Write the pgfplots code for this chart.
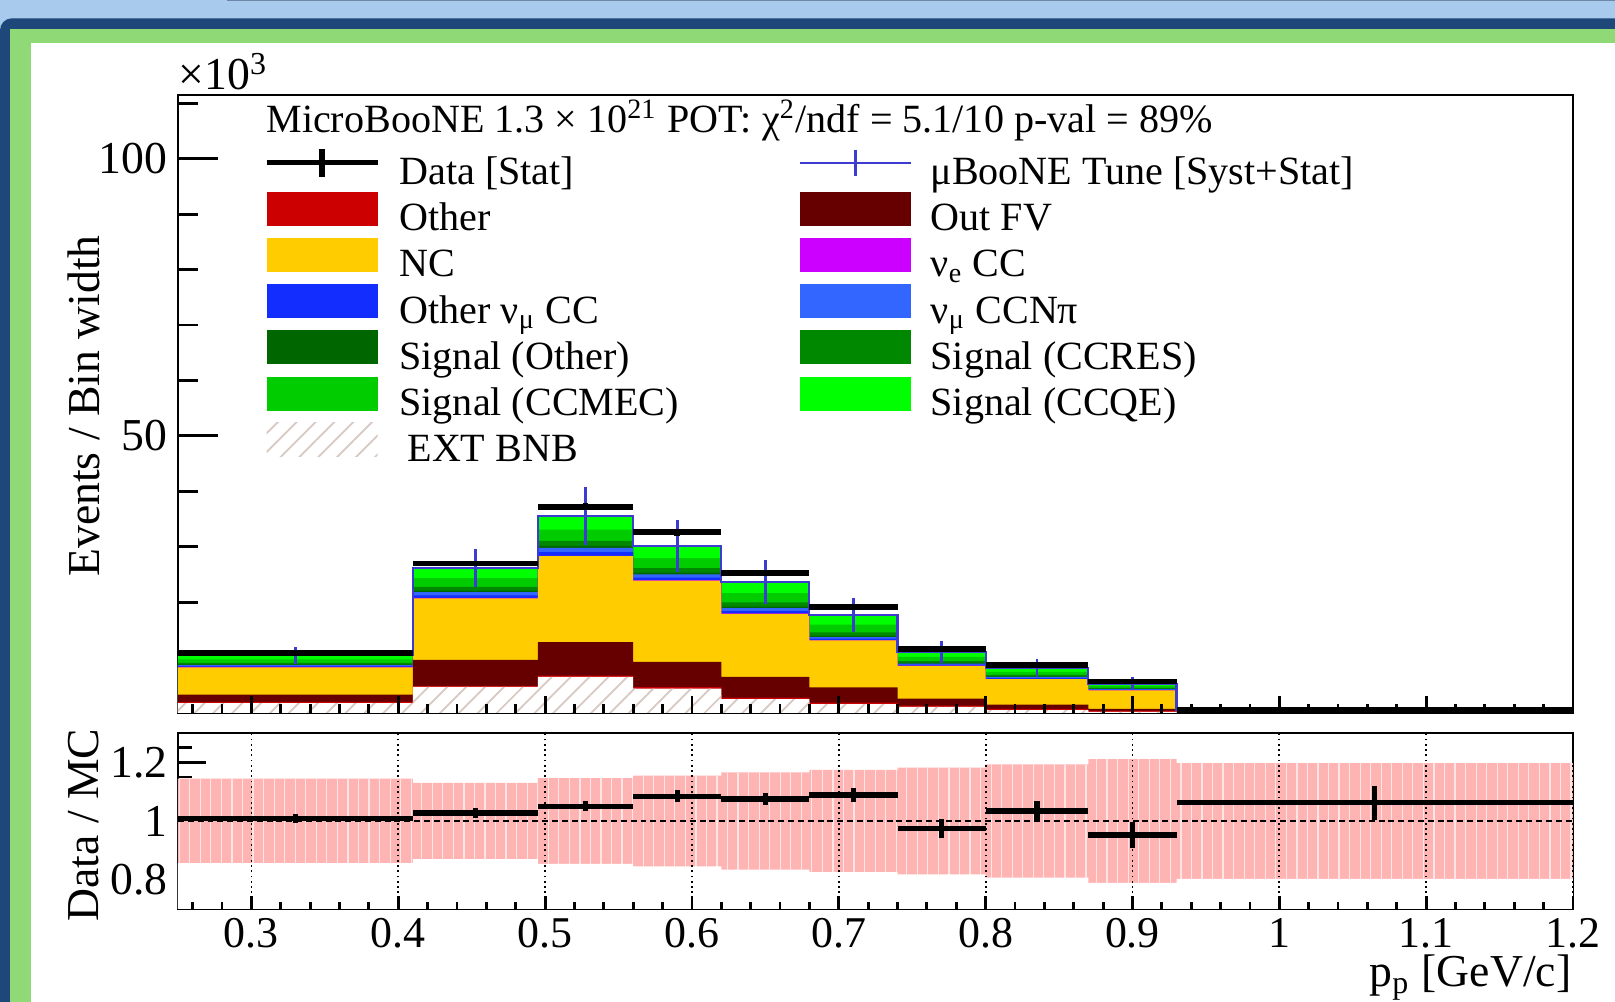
\documentclass[border=0pt]{standalone}
\usepackage{fontspec}
\setmainfont{Liberation Serif}
\usepackage{pgfplots}
\usepackage{pgfplotstable}
\pgfplotsset{compat=1.18}
\usetikzlibrary{patterns,patterns.meta}

\definecolor{cOther}{RGB}{204,0,0}
\definecolor{cOutFV}{RGB}{102,0,0}
\definecolor{cNC}{RGB}{255,204,0}
\definecolor{cNue}{RGB}{204,0,255}
\definecolor{cOmCC}{RGB}{20,45,255}
\definecolor{cNpi}{RGB}{51,102,255}
\definecolor{cSigO}{RGB}{0,102,0}
\definecolor{cRES}{RGB}{0,136,0}
\definecolor{cMEC}{RGB}{0,204,0}
\definecolor{cQE}{RGB}{0,255,0}
\definecolor{cTune}{RGB}{60,60,210}
\definecolor{cBand}{RGB}{255,180,180}
\definecolor{cHatch}{RGB}{215,200,194}
\definecolor{frLight}{RGB}{168,202,236}
\definecolor{frDark}{RGB}{31,72,122}
\definecolor{frGreen}{RGB}{143,217,118}
\definecolor{frLine}{RGB}{110,135,166}

% cumulative layer boundaries (x10^3 events / bin width), bin lower edges
\pgfplotstableread{
x     ext  other outfv nc    nue   omcc  npi   sigo  res   mec   qe
0.25  1.8  2.0   3.3   8.25  8.30  8.45  8.65  8.75  9.03  9.66  10.4
0.41  4.7  4.9   9.6   20.7  20.75 21.22 21.8  22.06 22.77 24.35 26.2
0.495 6.5  6.75  12.8  28.3  28.35 29.0  29.8  30.14 31.05 33.1  35.5
0.56  4.4  4.65  9.2   23.9  23.95 24.42 25.0  25.31 26.12 27.96 30.1
0.62  2.5  2.75  6.5   17.9  17.95 18.38 18.9  19.18 19.94 21.63 23.6
0.68  1.6  1.85  4.6   13.1  13.15 13.4  13.7  13.93 14.56 15.96 17.6
0.74  1.1  1.35  2.6   8.5   8.55  8.71  8.9   9.03  9.36  10.12 11.0
0.80  0.5  0.75  1.5   6.1   6.13  6.3   6.5   6.6   6.86  7.43  8.1
0.87  0.2  0.4   0.75  4.1   4.12  4.2   4.3   4.36  4.52  4.88  5.3
0.93  0.03 0.08  0.15  0.32  0.33  0.35  0.37  0.38  0.41  0.45  0.5
1.2   0.03 0.08  0.15  0.32  0.33  0.35  0.37  0.38  0.41  0.45  0.5
}\stacktab

\pgfplotstableread{
x      y     e
0.33   10.4  1.5
0.4525 26.2  3.4
0.5275 35.5  5.2
0.59   30.1  4.67
0.65   23.6  3.92
0.71   17.6  3.06
0.77   11.0  2.0
0.835  8.1   1.56
0.90   5.3   1.12
1.065  0.5   0.1
}\tunetab

\pgfplotstableread{
x      y     ex     ey
0.33   10.85 0.08   0.17
0.4525 27.0  0.0425 0.46
0.5275 37.2  0.0325 0.63
0.59   32.6  0.03   0.65
0.65   25.3  0.03   0.5
0.71   19.1  0.03   0.46
0.77   11.6  0.03   0.37
0.835  8.7   0.035  0.3
0.90   5.7   0.03   0.25
1.065  0.55  0.135  0.03
}\datatab

\pgfplotstableread{
x      y     ex     ey
0.33   1.008 0.08   0.015
0.4525 1.027 0.0425 0.017
0.5275 1.05  0.0325 0.017
0.59   1.084 0.03   0.02
0.65   1.075 0.03   0.02
0.71   1.089 0.03   0.024
0.77   0.974 0.03   0.032
0.835  1.034 0.035  0.035
0.90   0.952 0.03   0.043
1.065  1.062 0.135  0.058
}\ratiotab

\pgfplotstableread{
x     lo    hi
0.25  0.856 1.144
0.41  0.870 1.130
0.495 0.854 1.146
0.56  0.845 1.155
0.62  0.834 1.166
0.68  0.826 1.174
0.74  0.818 1.182
0.80  0.807 1.193
0.87  0.789 1.211
0.93  0.803 1.197
1.2   0.803 1.197
}\bandtab

\pgfplotsset{
  legbox/.style={legend image code/.code={\path[draw=none,#1] (0mm,-0.36mm) rectangle (11.1mm,3.04mm);}},
  tickfont/.style={font=\fontsize{13}{15}\selectfont},
  xtickfont/.style={font=\fontsize{12.5}{15}\selectfont},
}
\newcommand{\minorx}{0.26,0.28,0.32,0.34,0.36,0.38,0.42,0.44,0.46,0.48,0.52,0.54,0.56,0.58,0.62,0.64,0.66,0.68,0.72,0.74,0.76,0.78,0.82,0.84,0.86,0.88,0.92,0.94,0.96,0.98,1.02,1.04,1.06,1.08,1.12,1.14,1.16,1.18}

\begin{document}
\begin{tikzpicture}
% screenshot frame
\fill[frLight] (0,0) rectangle (161.5mm,100.2mm);
\fill[frDark, rounded corners=1.2mm] (0,-5mm) rectangle (165mm,98.37mm);
\fill[frLine] (22.7mm,100.07mm) rectangle (161.5mm,100.2mm);
\fill[frGreen] (1.0mm,-1mm) rectangle (165mm,97.27mm);
\fill[white] (3.1mm,-1mm) rectangle (165mm,95.87mm);

% ---------------- main panel ----------------
\begin{axis}[
  at={(17.8mm,28.9mm)}, anchor=south west,
  scale only axis, width=139.5mm, height=61.8mm,
  xmin=0.25, xmax=1.2, ymin=0, ymax=111.5,
  xtick=\empty,
  ytick={0,50,100}, yticklabels={,50,100},
  minor ytick={10,20,30,40,60,70,80,90,110},
  ytick pos=left, tick align=inside,
  major tick length=4mm, minor tick length=2mm,
  tick style={black, line width=0.8pt},
  axis line style={black, line width=0.8pt},
  yticklabel style={tickfont, inner xsep=0pt, xshift=-1mm},
  /pgf/number format/assume math mode=true,
  legend columns=2, legend cell align=left,
  legend style={at={(0.0616,0.9178)}, anchor=north west, draw=none, fill=none,
    inner sep=0pt, outer sep=0pt, font=\fontsize{11.4}{13}\selectfont,
    row sep=-0.17mm, nodes={inner sep=0pt, text height=2.6mm, text depth=0.9mm},
    /tikz/every odd column/.append style={column sep=1.9mm},
    /tikz/every even column/.append style={column sep=0pt}},
]
\addlegendimage{legend image code/.code={
  \draw[black,line width=1.6pt] (0mm,1.34mm)--(11.1mm,1.34mm);
  \draw[black,line width=1.6pt] (5.55mm,-0.06mm)--(5.55mm,2.74mm);}}
\addlegendentry{\makebox[39.9mm][l]{Data [Stat]}}
\addlegendimage{legend image code/.code={
  \draw[cTune,line width=0.6pt] (0mm,1.34mm)--(11.1mm,1.34mm);
  \draw[cTune,line width=0.8pt] (5.55mm,0.04mm)--(5.55mm,2.64mm);}}
\addlegendentry{μBooNE Tune [Syst+Stat]}
\addlegendimage{legbox={fill=cOther}}\addlegendentry{\makebox[39.9mm][l]{Other}}
\addlegendimage{legbox={fill=cOutFV}}\addlegendentry{Out FV}
\addlegendimage{legbox={fill=cNC}}\addlegendentry{\makebox[39.9mm][l]{NC}}
\addlegendimage{legbox={fill=cNue}}\addlegendentry{ν\textsubscript{e} CC}
\addlegendimage{legbox={fill=cOmCC}}\addlegendentry{\makebox[39.9mm][l]{Other ν\textsubscript{μ} CC}}
\addlegendimage{legbox={fill=cNpi}}\addlegendentry{ν\textsubscript{μ} CCNπ}
\addlegendimage{legbox={fill=cSigO}}\addlegendentry{\makebox[39.9mm][l]{Signal (Other)}}
\addlegendimage{legbox={fill=cRES}}\addlegendentry{Signal (CCRES)}
\addlegendimage{legbox={fill=cMEC}}\addlegendentry{\makebox[39.9mm][l]{Signal (CCMEC)}}
\addlegendimage{legbox={fill=cQE}}\addlegendentry{Signal (CCQE)}
\addlegendimage{legbox={pattern={Lines[angle=45,distance=3.8pt,line width=0.5pt]},pattern color=cHatch}}
\addlegendentry{\makebox[39.9mm][l]{\hspace{0.8mm}EXT BNB}}

% stacked histogram, drawn top layer first
\addplot[const plot mark left, fill=cQE,   draw=none, forget plot] table[x=x,y=qe]{\stacktab} \closedcycle;
\addplot[const plot mark left, fill=cMEC,  draw=none, forget plot] table[x=x,y=mec]{\stacktab} \closedcycle;
\addplot[const plot mark left, fill=cRES,  draw=none, forget plot] table[x=x,y=res]{\stacktab} \closedcycle;
\addplot[const plot mark left, fill=cSigO, draw=none, forget plot] table[x=x,y=sigo]{\stacktab} \closedcycle;
\addplot[const plot mark left, fill=cNpi,  draw=none, forget plot] table[x=x,y=npi]{\stacktab} \closedcycle;
\addplot[const plot mark left, fill=cOmCC, draw=none, forget plot] table[x=x,y=omcc]{\stacktab} \closedcycle;
\addplot[const plot mark left, fill=cNue,  draw=none, forget plot] table[x=x,y=nue]{\stacktab} \closedcycle;
\addplot[const plot mark left, fill=cNC,   draw=none, forget plot] table[x=x,y=nc]{\stacktab} \closedcycle;
\addplot[const plot mark left, fill=cOutFV,draw=none, forget plot] table[x=x,y=outfv]{\stacktab} \closedcycle;
\addplot[const plot mark left, fill=cOther,draw=none, forget plot] table[x=x,y=other]{\stacktab} \closedcycle;
\addplot[const plot mark left, fill=white, draw=none, forget plot] table[x=x,y=ext]{\stacktab} \closedcycle;
\addplot[const plot mark left, draw=none, forget plot,
  pattern={Lines[angle=45,distance=3.8pt,line width=0.5pt]}, pattern color=cHatch] table[x=x,y=ext]{\stacktab} \closedcycle;
% MC (tune) outline and uncertainty
\addplot[const plot mark left, cTune, line width=0.6pt, forget plot] table[x=x,y=qe]{\stacktab};
\addplot[draw=none, forget plot,
  error bars/.cd, y dir=both, y explicit, error mark=none,
  error bar style={draw=cTune, line width=0.8pt}] table[x=x,y=y,y error=e]{\tunetab};
% data
\addplot[draw=none, forget plot,
  error bars/.cd, x dir=both, x explicit, y dir=both, y explicit, error mark=none,
  error bar style={draw=black, line width=1.6pt}] table[x=x,y=y,x error=ex,y error=ey]{\datatab};

\node[anchor=base west, inner sep=0pt, font=\fontsize{11.4}{13}\selectfont]
  at (rel axis cs:0.0629,0.9387) {MicroBooNE 1.3 × 10\textsuperscript{21} POT: χ\textsuperscript{2}/ndf = 5.1/10 p-val = 89\%};
\end{axis}

% x ticks of main panel
\begin{axis}[
  at={(17.8mm,28.9mm)}, anchor=south west,
  scale only axis, width=139.5mm, height=61.8mm,
  xmin=0.25, xmax=1.2, ymin=0, ymax=111.5,
  hide y axis, axis line style={draw=none},
  xtick={0.3,0.4,0.5,0.6,0.7,0.8,0.9,1.0,1.1,1.2}, xticklabels={},
  minor xtick=\minorx,
  xtick pos=bottom, tick align=inside,
  major tick length=1.7mm, minor tick length=0.85mm,
  tick style={black, line width=0.8pt},
]
\addplot[draw=none, forget plot] coordinates {(0.25,0) (1.2,0)};
\end{axis}

% ---------------- ratio panel ----------------
\begin{axis}[
  at={(17.8mm,9.3mm)}, anchor=south west,
  scale only axis, width=139.5mm, height=17.6mm,
  xmin=0.25, xmax=1.2, ymin=0.7, ymax=1.3,
  xtick=\empty,
  ytick={0.8,1,1.2}, yticklabels={0.8,1,1.2},
  minor ytick={0.7,0.75,0.85,0.9,0.95,1.05,1.1,1.15,1.25,1.3},
  ytick pos=left, tick align=inside,
  major tick length=2.8mm, minor tick length=1.4mm,
  tick style={black, line width=0.8pt},
  axis line style={black, line width=0.8pt},
  yticklabel style={tickfont, inner xsep=0pt, xshift=-1mm},
  /pgf/number format/assume math mode=true,
]
% MC uncertainty band: upper edge filled, lower part blanked
\addplot[const plot mark left, fill=cBand, draw=none, forget plot] table[x=x,y=hi]{\bandtab} \closedcycle;
\addplot[const plot mark left, draw=none, forget plot,
  pattern={Lines[angle=90,distance=3pt,line width=0.35pt]}, pattern color=white!65!cBand] table[x=x,y=hi]{\bandtab} \closedcycle;
\addplot[const plot mark left, fill=white, draw=none, forget plot] table[x=x,y=lo]{\bandtab} \closedcycle;
\addplot[black, line width=0.7pt, dash pattern=on 1.7pt off 1.1pt, forget plot] coordinates {(0.25,1) (1.2,1)};
\addplot[draw=none, forget plot,
  error bars/.cd, x dir=both, x explicit, y dir=both, y explicit, error mark=none,
  error bar style={draw=black, line width=1.5pt}] table[x=x,y=y,x error=ex,y error=ey]{\ratiotab};
\end{axis}

% x ticks, labels and grid of ratio panel
\begin{axis}[
  at={(17.8mm,9.3mm)}, anchor=south west,
  scale only axis, width=139.5mm, height=17.6mm,
  xmin=0.25, xmax=1.2, ymin=0.7, ymax=1.3,
  hide y axis, axis line style={draw=none},
  xtick={0.3,0.4,0.5,0.6,0.7,0.8,0.9,1.0,1.1,1.2},
  xticklabels={0.3,0.4,0.5,0.6,0.7,0.8,0.9,1,1.1,1.2},
  minor xtick=\minorx,
  xtick pos=bottom, tick align=inside,
  major tick length=1.3mm, minor tick length=0.65mm,
  tick style={black, line width=0.8pt},
  xmajorgrids, major grid style={black, line width=0.5pt, densely dotted},
  xticklabel style={xtickfont, anchor=base, yshift=-3.9mm},
  /pgf/number format/assume math mode=true,
]
\addplot[draw=none, forget plot] coordinates {(0.25,1) (1.2,1)};
\end{axis}

% axis titles
\node[anchor=base west, inner sep=0pt, font=\fontsize{13}{15}\selectfont] at (17.8mm,91.2mm) {×10\textsuperscript{3}};
\node[rotate=90, anchor=base, inner sep=0pt, font=\fontsize{13}{15}\selectfont] at (10.0mm,59.6mm) {Events / Bin width};
\node[rotate=90, anchor=base, inner sep=0pt, font=\fontsize{13}{15}\selectfont] at (9.9mm,17.7mm) {Data / MC};
\node[anchor=base east, inner sep=0pt, font=\fontsize{13}{15}\selectfont] at (157.2mm,1.5mm) {p\textsubscript{p} [GeV/c]};

\pgfresetboundingbox
\useasboundingbox (0,0) rectangle (161.5mm,100.2mm);
\end{tikzpicture}
\end{document}
